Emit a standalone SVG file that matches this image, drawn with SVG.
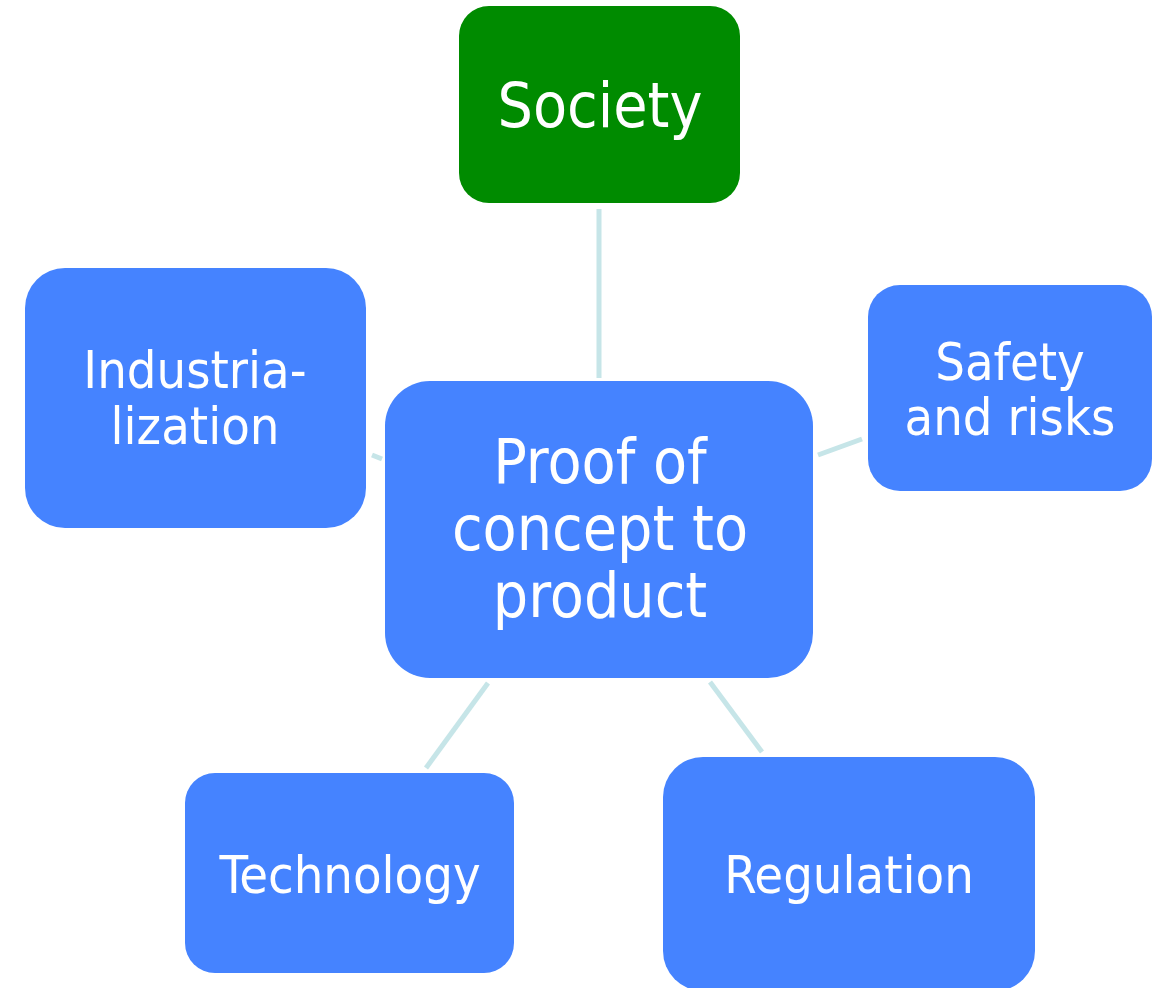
<svg xmlns="http://www.w3.org/2000/svg" width="1153" height="988" viewBox="0 0 1153 988">
<style>
.node{fill:#4583FF}
.green{fill:#008B00}
.lbl{fill:#FFFFFF;font-family:"DejaVu Sans Condensed","DejaVu Sans",sans-serif;font-stretch:condensed;text-anchor:middle}
.big{font-size:62px}
.mid{font-size:52px}
.conn{stroke:#C6E5E8;stroke-width:5;fill:none}
</style>
<rect width="1153" height="988" fill="#FFFFFF"/>
<g id="connectors">
<line class="conn" x1="599" y1="209" x2="599" y2="378"/>
<line class="conn" x1="372" y1="455" x2="382" y2="459"/>
<line class="conn" x1="818" y1="455" x2="862" y2="439"/>
<line class="conn" x1="488" y1="683" x2="426" y2="768"/>
<line class="conn" x1="710" y1="682" x2="762" y2="752"/>
</g>
<g id="society">
<rect class="green" x="459" y="6" width="281" height="197" rx="30"/>
<text class="lbl big" x="600" y="127">Society</text>
</g>
<g id="industrialization">
<rect class="node" x="25" y="268" width="341" height="260" rx="40"/>
<text class="lbl mid" x="195" y="388">Industria-</text>
<text class="lbl mid" x="195" y="444">lization</text>
</g>
<g id="center">
<rect class="node" x="385" y="381" width="428" height="297" rx="45"/>
<text class="lbl big" x="600" y="483">Proof of</text>
<text class="lbl big" x="600" y="550">concept to</text>
<text class="lbl big" x="600" y="617">product</text>
</g>
<g id="safety">
<rect class="node" x="868" y="285" width="284" height="206" rx="32"/>
<text class="lbl mid" x="1010" y="380">Safety</text>
<text class="lbl mid" x="1010" y="435">and risks</text>
</g>
<g id="technology">
<rect class="node" x="185" y="773" width="329" height="200" rx="30"/>
<text class="lbl mid" x="350" y="893">Technology</text>
</g>
<g id="regulation">
<rect class="node" x="663" y="757" width="372" height="234" rx="40"/>
<text class="lbl mid" x="849" y="893">Regulation</text>
</g>
</svg>
